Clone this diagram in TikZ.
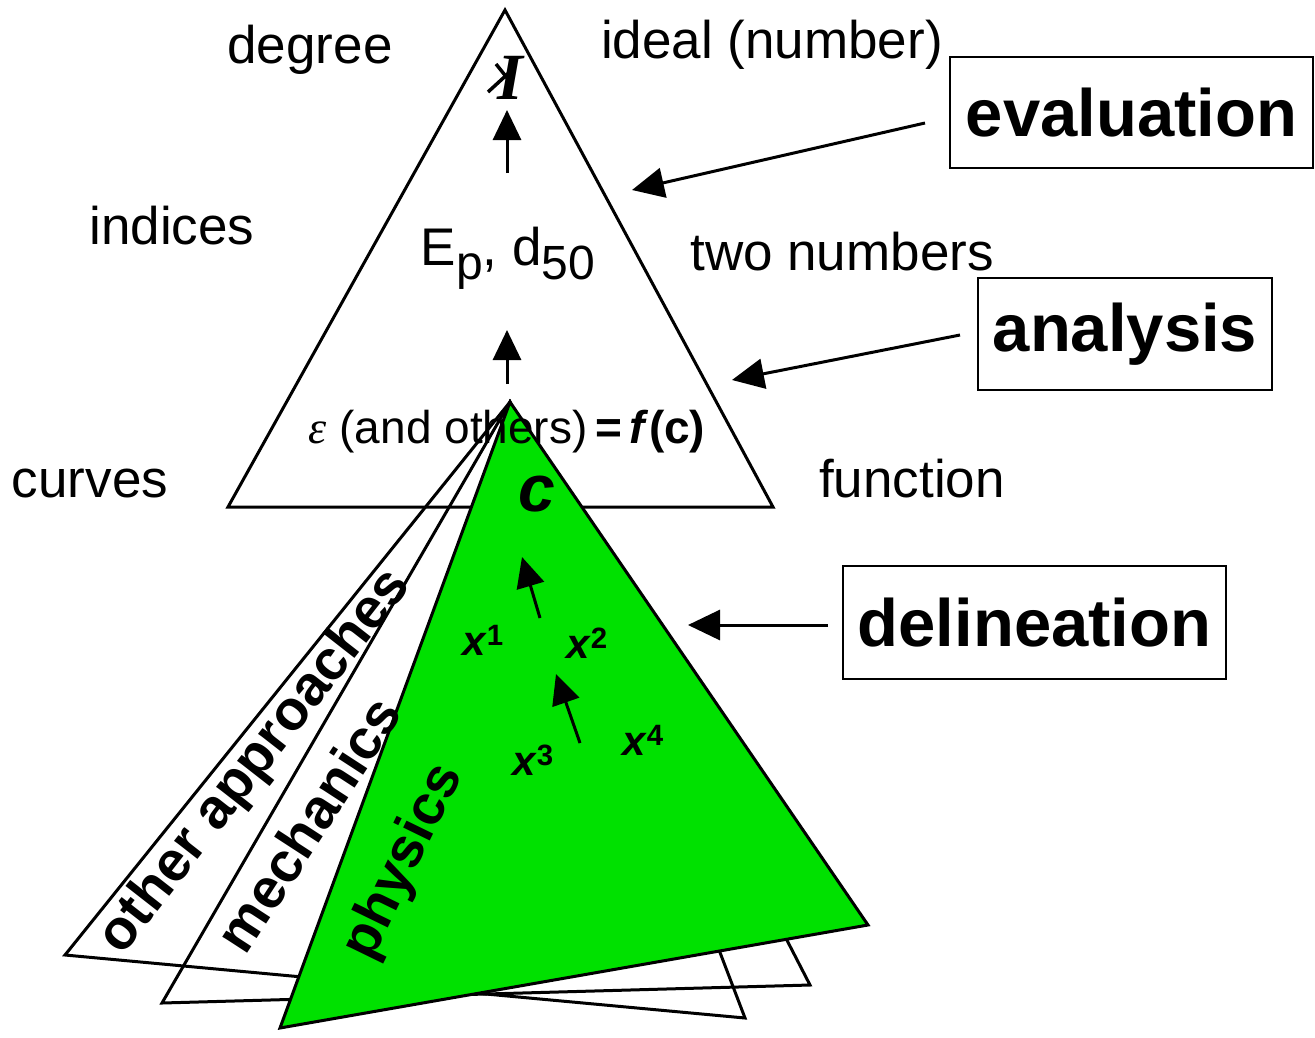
\documentclass[tikz,border=0pt]{standalone}
\usepackage{fontspec}
\setmainfont{Liberation Sans}
\newfontfamily\serfont{Liberation Serif}
\usetikzlibrary{arrows.meta}
\definecolor{leafgreen}{RGB}{0,225,0}
\begin{document}
\begin{tikzpicture}[x=1pt,y=-1pt,
  tri/.style={line width=3pt, line join=miter},
  lbl/.style={font=\fontsize{53}{56}\selectfont, inner sep=0pt, anchor=base},
  inner/.style={font=\fontsize{46}{50}\selectfont, inner sep=0pt, anchor=base},
  rotlbl/.style={font=\fontsize{56}{60}\selectfont\bfseries, inner sep=0pt},
  xlbl/.style={font=\fontsize{42}{46}\selectfont\bfseries, inner sep=0pt, anchor=base},
  boxlbl/.style={draw, line width=2.5pt, font=\fontsize{67}{70}\selectfont\bfseries, inner sep=0pt},
  bigarrow/.style={line width=3pt, -{Triangle[length=32pt,width=30pt]}},
  smallarrow/.style={line width=3pt, -{Triangle[length=30pt,width=28pt]}}
]
\useasboundingbox (0,0) rectangle (1315,1037);
% upper triangle
\coordinate (ta) at (505,10);
\coordinate (tl) at (228,507);
\coordinate (tr) at (773,507);
\draw[tri, fill=white] (ta) -- (tl) -- (tr) -- cycle;
% lower triangles
\coordinate (apex) at (510,402);
\coordinate (oal) at (65,955);
\coordinate (oar) at (745,1018);
\coordinate (mel) at (162,1003);
\coordinate (mer) at (810,985);
\coordinate (phl) at (280,1028);
\coordinate (phr) at (868,925);
\draw[tri] (apex) -- (oal) -- (oar) -- cycle;
\draw[tri] (apex) -- (mel) -- (mer) -- cycle;
\draw[tri, fill=leafgreen] (apex) -- (phl) -- (phr) -- cycle;
% outside labels
\node[lbl] (degree) at (310,63) {degree};
\node[lbl] (ideal) at (772,58) {ideal (number)};
\node[lbl] (indices) at (172,244) {indices};
\node[lbl] (twonum) at (842,270) {two numbers};
\node[lbl] (curves) at (90,497) {curves};
\node[lbl] (function) at (912,497) {function};
% inside upper triangle
\draw[line width=3.5pt] (488,92) -- (512,70);
\draw[line width=3.5pt] (496,64) -- (508,79);
\node[inner sep=0pt, anchor=base, font=\fontsize{66}{68}\selectfont\serfont\bfseries\itshape] (idx) at (510,99) {I};
\node[lbl] (ep) at (508,265) {E\raisebox{-0.28em}{\fontsize{48}{50}\selectfont p}, d\raisebox{-0.28em}{\fontsize{48}{50}\selectfont 50}};
\node[inner] (eps) at (507,443) {{\serfont\itshape ε} (and others)\,\textbf{=}\,\textbf{\textit{f}(c)}};
\draw[smallarrow] (507,173) -- (507,110);
\draw[smallarrow] (507,384) -- (507,330);
% inside green
\node[inner sep=0pt, anchor=base, font=\fontsize{66}{68}\selectfont\bfseries\itshape] (cc) at (537,511) {c};
\node[xlbl] (x1) at (483,655) {\textit{x}\textsuperscript{1}};
\node[xlbl] (x2) at (587,658) {\textit{x}\textsuperscript{2}};
\node[xlbl] (x3) at (533,775) {\textit{x}\textsuperscript{3}};
\node[xlbl] (x4) at (643,755) {\textit{x}\textsuperscript{4}};
\draw[smallarrow] (540,618) -- (522,557);
\draw[smallarrow] (580,743) -- (556,674);
% rotated labels
\node[rotlbl, rotate=52] (oapp) at (256,762) {other approaches};
\node[rotlbl, rotate=57] (mech) at (308,824) {mechanics};
\node[rotlbl, rotate=64] (phys) at (404,862) {physics};
% boxes
\node[boxlbl, minimum width=363pt, minimum height=111pt] (evalbox) at (1131.5,112.5) {evaluation};
\node[boxlbl, minimum width=294pt, minimum height=112pt] (anabox) at (1125,334) {analysis};
\node[boxlbl, minimum width=383pt, minimum height=113pt] (delbox) at (1034.5,622.5) {delineation};
% connectors
\coordinate (evtail) at (925,123);
\coordinate (evtip) at (632,190);
\coordinate (antail) at (960,335);
\coordinate (antip) at (732,380);
\coordinate (detail) at (828,625);
\coordinate (detip) at (688,625);
\draw[bigarrow] (evtail) -- (evtip);
\draw[bigarrow] (antail) -- (antip);
\draw[bigarrow] (detail) -- (detip);
\end{tikzpicture}
\end{document}
